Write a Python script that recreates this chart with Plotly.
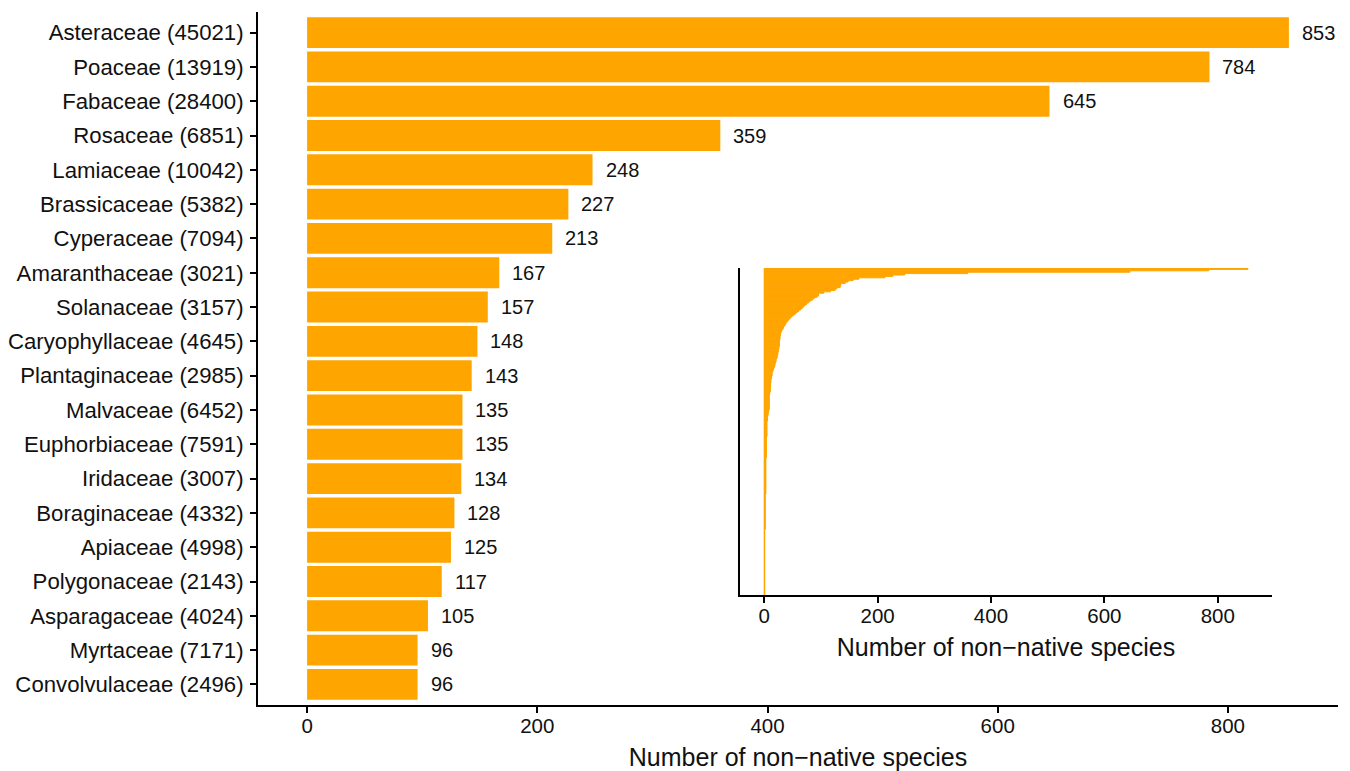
import plotly.graph_objects as go

# ---- data ----
families = ["Asteraceae", "Poaceae", "Fabaceae", "Rosaceae", "Lamiaceae", "Brassicaceae",
            "Cyperaceae", "Amaranthaceae", "Solanaceae", "Caryophyllaceae", "Plantaginaceae",
            "Malvaceae", "Euphorbiaceae", "Iridaceae", "Boraginaceae", "Apiaceae",
            "Polygonaceae", "Asparagaceae", "Myrtaceae", "Convolvulaceae"]
total_species = [45021, 13919, 28400, 6851, 10042, 5382, 7094, 3021, 3157, 4645, 2985,
                 6452, 7591, 3007, 4332, 4998, 2143, 4024, 7171, 2496]
nonnative = [853, 784, 645, 359, 248, 227, 213, 167, 157, 148, 143, 135, 135, 134, 128,
             125, 117, 105, 96, 96]

# remaining families (estimated from inset), sorted descending
other_families_nonnative = [
    93, 88, 85, 81, 78, 75, 72, 69, 67, 64,
    61, 58, 55, 52, 49, 46, 44, 42, 40, 38,
    37, 35, 34, 33, 31, 30, 29, 29, 28, 28,
    28, 27, 27, 27, 27, 27, 26, 26, 25, 25,
    24, 24, 23, 23, 22, 21, 21, 20, 19, 19,
    18, 17, 16, 15, 14, 14, 14, 13, 13, 12,
    12, 12, 11, 11, 11, 11, 11, 11, 10, 10,
    9, 9, 9, 9, 9, 9, 9, 9, 9, 9,
    9, 8, 8, 7, 7, 6, 6, 6, 6, 5,
    5, 5, 5, 5, 5, 5, 5, 5, 5, 5,
    4, 4, 4, 4, 4, 4, 4, 4, 4, 4,
    4, 4, 4, 4, 4,
    3, 3, 3, 3, 3, 3, 3, 3, 3, 3,
    3, 3, 3, 3, 3, 3, 3, 3, 3, 3,
    3, 3, 3, 3, 3, 3,
    2, 2, 2, 2, 2, 2, 2, 2, 2, 2,
    2, 2, 2, 2, 2, 2, 2, 2, 2, 2,
    2, 2, 2, 2, 2,
    1, 1, 1, 1, 1, 1, 1, 1, 1, 1,
    1, 1, 1, 1, 1, 1, 1, 1, 1, 1,
    1, 1, 1, 1, 1, 1, 1, 1, 1, 1,
    1, 1, 1, 1, 1, 1, 1, 1, 1, 1,
    1, 1, 1, 1, 1, 1, 1,
]
x_ticks = [0, 200, 400, 600, 800]
x_title = "Number of non\u2212native species"

labels = [f"{f} ({t})" for f, t in zip(families, total_species)]
all_values = nonnative + other_families_nonnative
all_pos = list(range(len(all_values)))

ORANGE = "#FFA500"
FONT = "Liberation Sans, Arial, sans-serif"
TXT = "#111111"

fig = go.Figure()
fig.add_trace(go.Bar(
    x=nonnative, y=labels, orientation="h", width=0.9,
    marker=dict(color=ORANGE, line=dict(width=0)),
    xaxis="x", yaxis="y", hoverinfo="x+y", showlegend=False))

fig.add_trace(go.Bar(
    x=all_values, y=all_pos, orientation="h", width=1.0,
    marker=dict(color=ORANGE, line=dict(width=1, color=ORANGE)),
    xaxis="x2", yaxis="y2", hoverinfo="x", showlegend=False))

for v, lab in zip(nonnative, labels):
    fig.add_annotation(x=v, y=lab, xref="x", yref="y", text=str(v), showarrow=False,
                       xanchor="left", xshift=11,
                       font=dict(family=FONT, size=20, color=TXT))

xmax = max(nonnative) * 1.05
xmin = -max(nonnative) * 0.05

fig.update_layout(
    width=1342, height=763,
    margin=dict(l=250, r=12, t=4, b=66, autoexpand=False),
    paper_bgcolor="white", plot_bgcolor="white",
    font=dict(family=FONT, size=20, color=TXT),
    showlegend=False,
    xaxis=dict(
        range=[xmin, xmax], tickvals=x_ticks, ticks="outside", ticklen=6, tickwidth=1.5,
        tickcolor="black", showline=True, linecolor="black", linewidth=2, showgrid=False,
        zeroline=False, tickfont=dict(size=20.5), ticklabelstandoff=-5, automargin=False,
        title=dict(text=x_title, font=dict(size=25), standoff=16),
        domain=[0, 1],
    ),
    yaxis=dict(
        categoryorder="array", categoryarray=labels, automargin=False,
        range=[len(labels) - 0.4, -0.6], ticks="outside", ticklen=6, tickwidth=1.5,
        tickcolor="black", showline=True, linecolor="black", linewidth=2, showgrid=False,
        zeroline=False, tickfont=dict(size=22.2), ticklabelstandoff=2,
    ),
    xaxis2=dict(
        anchor="y2", domain=[0.4463, 0.9389], automargin=False,
        range=[xmin, xmax], tickvals=x_ticks, ticks="outside", ticklen=6, tickwidth=1.5,
        tickcolor="black", showline=True, linecolor="black", linewidth=2, showgrid=False,
        zeroline=False, tickfont=dict(size=20.5), ticklabelstandoff=-5,
        title=dict(text=x_title, font=dict(size=25), standoff=13),
    ),
    yaxis2=dict(
        anchor="x2", domain=[0.1587, 0.6306], automargin=False,
        range=[len(all_values) - 0.5, -0.5], showticklabels=False, ticks="",
        showline=True, linecolor="black", linewidth=2, showgrid=False, zeroline=False,
    ),
)

fig.write_html("out.html")
